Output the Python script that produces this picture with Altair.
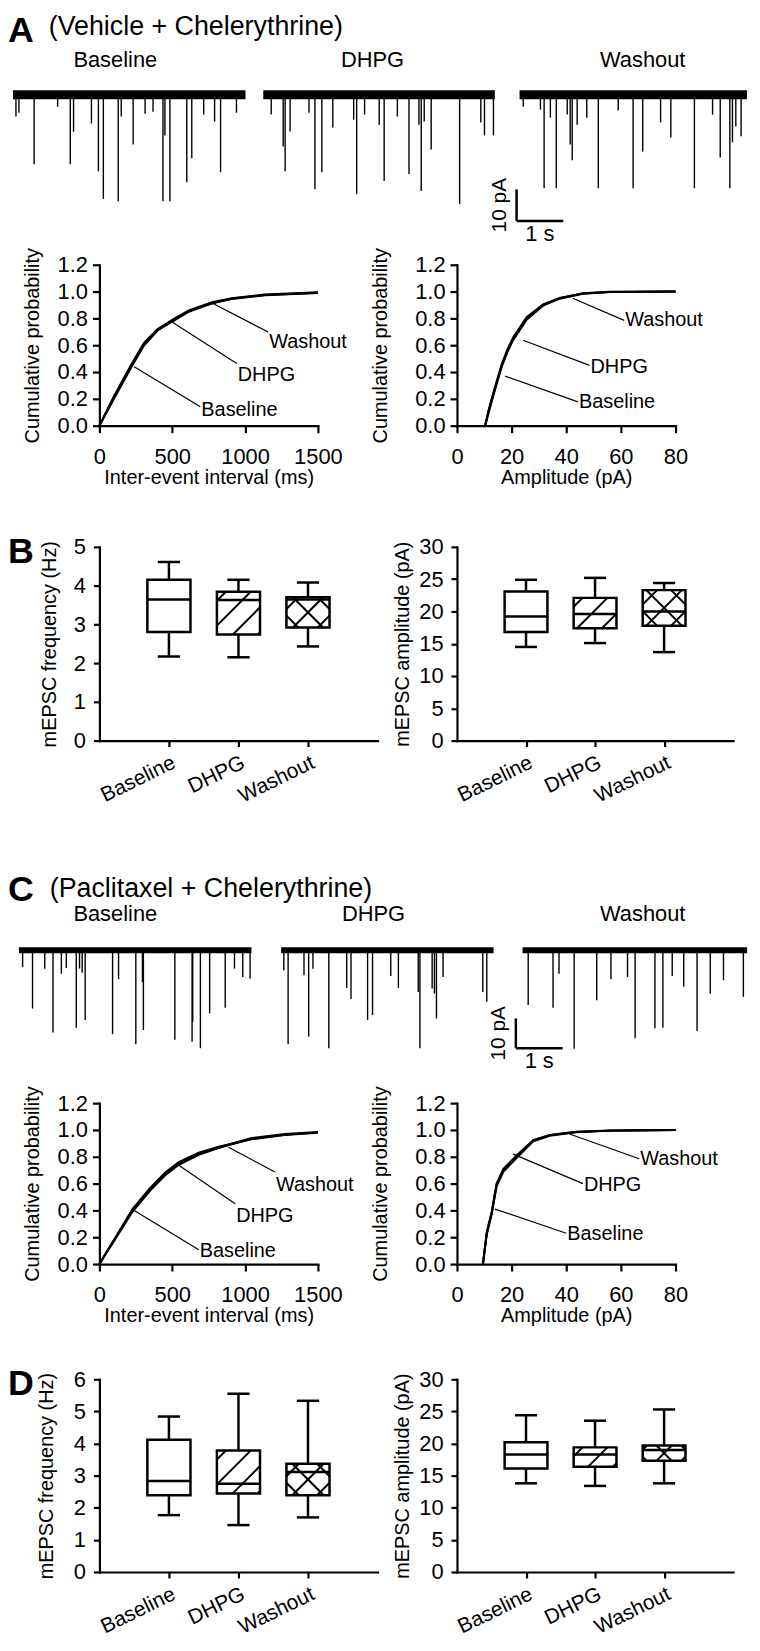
import altair as alt
import pandas as pd

FONT = "Liberation Sans"
CATS = ["Baseline", "DHPG", "Washout"]

# ---------------- example sweeps: event time (s) and amplitude (pA) ----------------
A_BASE_T = [0.064, 0.128, 0.453, 0.957, 1.228, 1.298, 1.681, 1.830, 1.936, 2.255, 2.319, 2.574,
            2.830, 3.000, 3.213, 3.255, 3.362, 3.723, 3.830, 4.085, 4.319, 4.447, 4.787]
A_BASE_A = [6.9, 5.7, 22.1, 3.8, 22.1, 11.7, 9.1, 24.3, 33.1, 33.8, 6.9, 15.8,
            6.0, 5.4, 33.8, 12.9, 33.8, 27.8, 20.2, 6.3, 8.5, 24.6, 5.7]
A_DHPG_T = [0.170, 0.426, 0.468, 0.574, 0.979, 1.106, 1.255, 1.489, 1.936, 2.000, 2.170, 2.483,
            2.589, 2.872, 3.121, 3.334, 3.383, 3.447, 3.596, 4.206, 4.660, 4.738, 4.930]
A_DHPG_A = [6.3, 16.4, 24.3, 11.7, 5.7, 30.0, 24.6, 10.4, 7.9, 31.5, 6.3, 9.5,
            27.4, 6.9, 25.2, 9.5, 30.6, 8.5, 17.4, 34.7, 8.8, 12.9, 12.9]
A_WASH_T = [0.079, 0.447, 0.526, 0.660, 0.787, 1.021, 1.085, 1.128, 1.234, 1.440, 1.687, 2.113,
            2.432, 2.638, 3.021, 3.240, 3.745, 4.134, 4.298, 4.504, 4.560, 4.632, 4.745]
A_WASH_A = [3.8, 4.7, 29.7, 7.3, 29.7, 6.3, 15.8, 20.8, 9.5, 7.3, 29.7, 5.0,
            29.7, 18.0, 8.8, 13.6, 29.7, 6.3, 19.9, 29.7, 15.1, 10.1, 13.2]
A_DUR = [4.98, 4.96, 4.87]

C_BASE_T = [0.079, 0.291, 0.553, 0.730, 0.909, 1.015, 1.228, 1.298, 1.355, 1.419, 2.006, 2.134,
            2.504, 2.645, 2.666, 3.340, 3.709, 3.723, 3.887, 4.085, 4.419, 4.617, 4.794, 4.951]
C_BASE_A = [5.7, 19.6, 6.2, 27.6, 7.9, 6.0, 26.0, 6.2, 7.6, 23.4, 28.2, 9.7,
            31.6, 10.7, 26.8, 30.1, 30.7, 24.0, 32.9, 21.2, 19.3, 6.2, 9.0, 9.6]
C_DHPG_T = [0.057, 0.149, 0.489, 0.589, 0.681, 1.021, 1.404, 1.496, 1.851, 1.957, 2.347, 2.511,
            2.936, 2.972, 3.234, 3.283, 3.326, 3.468, 4.319, 4.404]
C_DHPG_A = [6.8, 31.6, 8.4, 29.0, 6.2, 32.9, 12.7, 16.4, 23.4, 21.8, 8.7, 12.7,
            14.0, 32.9, 12.9, 14.6, 22.9, 9.0, 14.0, 17.3]
C_WASH_T = [0.121, 0.653, 0.781, 1.106, 1.589, 1.894, 2.249, 2.411, 2.836, 3.006, 3.206, 3.453,
            3.738, 4.021, 4.304, 4.730]
C_WASH_A = [18.4, 19.3, 7.9, 33.1, 16.8, 9.8, 9.0, 29.6, 26.2, 26.0, 8.7, 12.3,
            27.1, 14.6, 10.1, 15.7]
C_DUR = [4.98, 4.55, 4.81]

BAR_S = 1.0     # scale bar: 1 s
BAR_PA = 10.0   # scale bar: 10 pA

# ---------------- cumulative distributions ----------------
A_IEI_X = [0, 100, 216, 307, 400, 500, 614, 773, 909, 1136, 1500]
A_IEI_BASE = [0, 0.22, 0.45, 0.62, 0.72, 0.79, 0.86, 0.92, 0.95, 0.978, 0.995]
A_IEI_DHPG = [0, 0.20, 0.43, 0.60, 0.71, 0.78, 0.855, 0.91, 0.948, 0.975, 0.992]
A_IEI_WASH = [0, 0.21, 0.44, 0.61, 0.715, 0.775, 0.85, 0.915, 0.945, 0.972, 0.99]

A_AMP_X = [10.3, 11.5, 12.7, 14.5, 16.4, 18.5, 20.6, 25.5, 31.5, 37.6, 46.1, 55.8, 80]
A_AMP_BASE = [0, 0.10, 0.19, 0.32, 0.45, 0.56, 0.65, 0.80, 0.90, 0.95, 0.985, 0.997, 1.0]
A_AMP_DHPG = [0, 0.09, 0.18, 0.31, 0.44, 0.55, 0.64, 0.79, 0.895, 0.947, 0.983, 0.996, 1.0]
A_AMP_WASH = [0, 0.11, 0.20, 0.33, 0.46, 0.57, 0.66, 0.81, 0.905, 0.953, 0.987, 0.998, 1.0]

C_IEI_X = [0, 100, 227, 350, 450, 545, 682, 818, 1045, 1273, 1500]
C_IEI_BASE = [0, 0.18, 0.40, 0.56, 0.67, 0.75, 0.82, 0.87, 0.94, 0.97, 0.985]
C_IEI_DHPG = [0, 0.17, 0.39, 0.55, 0.66, 0.74, 0.815, 0.865, 0.935, 0.965, 0.982]
C_IEI_WASH = [0, 0.18, 0.41, 0.57, 0.68, 0.76, 0.83, 0.875, 0.93, 0.962, 0.98]

C_AMP_X = [9.5, 10.9, 12.7, 14.5, 17.0, 21.8, 27.9, 33.9, 43.6, 55.8, 80]
C_AMP_BASE = [0, 0.23, 0.38, 0.59, 0.70, 0.80, 0.92, 0.96, 0.985, 0.995, 1.0]
C_AMP_DHPG = [0, 0.22, 0.37, 0.58, 0.69, 0.79, 0.915, 0.957, 0.983, 0.994, 1.0]
C_AMP_WASH = [0, 0.24, 0.39, 0.60, 0.71, 0.81, 0.925, 0.963, 0.987, 0.996, 1.0]

# leader labels: name, point on curve (x, y), line end (x, y), text centre y
A_IEI_LAB = [("Washout", 773, 0.915, 1159, 0.698, 0.626),
             ("DHPG", 488, 0.78, 943, 0.463, 0.38),
             ("Baseline", 239, 0.44, 693, 0.141, 0.113)]
A_AMP_LAB = [("Washout", 42.4, 0.95, 61.2, 0.785, 0.785),
             ("DHPG", 24.2, 0.637, 48.5, 0.45, 0.44),
             ("Baseline", 17.6, 0.37, 44.3, 0.178, 0.175)]
C_IEI_LAB = [("Washout", 886, 0.871, 1205, 0.687, 0.587),
             ("DHPG", 545, 0.736, 932, 0.45, 0.358),
             ("Baseline", 239, 0.40, 682, 0.106, 0.095)]
C_AMP_LAB = [("Washout", 41.2, 0.97, 66.7, 0.785, 0.784),
             ("DHPG", 20.6, 0.82, 46.1, 0.60, 0.587),
             ("Baseline", 13.9, 0.41, 40, 0.23, 0.224)]

# ---------------- box plot statistics (lo whisker, q1, median, q3, hi whisker) ----------------
B_FREQ_LO = [2.17, 2.15, 2.43]
B_FREQ_Q1 = [2.80, 2.74, 2.92]
B_FREQ_MED = [3.64, 3.63, 3.64]
B_FREQ_Q3 = [4.15, 3.84, 3.70]
B_FREQ_HI = [4.61, 4.15, 4.08]

B_AMP_LO = [14.5, 15.1, 13.7]
B_AMP_Q1 = [16.8, 17.4, 17.8]
B_AMP_MED = [19.2, 19.6, 20.0]
B_AMP_Q3 = [23.1, 22.1, 23.3]
B_AMP_HI = [24.9, 25.2, 24.4]

D_FREQ_LO = [1.77, 1.46, 1.70]
D_FREQ_Q1 = [2.39, 2.44, 2.39]
D_FREQ_MED = [2.83, 2.75, 3.11]
D_FREQ_Q3 = [4.12, 3.78, 3.37]
D_FREQ_HI = [4.84, 5.55, 5.33]

D_AMP_LO = [13.8, 13.4, 13.8]
D_AMP_Q1 = [16.1, 16.4, 17.3]
D_AMP_MED = [18.3, 18.3, 19.0]
D_AMP_Q3 = [20.2, 19.4, 19.7]
D_AMP_HI = [24.4, 23.55, 25.3]

HATCH = ["", "/", "x"]

# ---------------- styling constants ----------------
PX_PER_S = 47.0
HALF_BOX = 0.31
HALF_CAP = 0.16


def spacer(w, h):
    return alt.Chart(pd.DataFrame({"s": [0]})).mark_point(size=0, opacity=0).properties(width=w, height=h)


def letter_spacer(letter, w, h, y):
    return alt.Chart(pd.DataFrame({"s": [0]})).mark_text(
        text=letter, font=FONT, fontSize=36, fontWeight="bold", align="left",
        baseline="alphabetic", color="black"
    ).encode(x=alt.value(0), y=alt.value(y)).properties(width=w, height=h)


def header(letter, letter_y, subtitle, sub_x, sub_y, label_xs, label_y, h):
    d = pd.DataFrame({"s": [0]})
    layers = [
        alt.Chart(d).mark_text(text=letter, font=FONT, fontSize=36, fontWeight="bold",
                               align="left", baseline="alphabetic", color="black")
        .encode(x=alt.value(0), y=alt.value(letter_y)),
        alt.Chart(d).mark_text(text=subtitle, font=FONT, fontSize=27, align="left",
                               baseline="alphabetic", color="black")
        .encode(x=alt.value(sub_x), y=alt.value(sub_y)),
    ]
    for name, lx in zip(CATS, label_xs):
        layers.append(
            alt.Chart(d).mark_text(text=name, font=FONT, fontSize=22, align="center",
                                   baseline="alphabetic", color="black")
            .encode(x=alt.value(lx), y=alt.value(label_y)))
    return alt.layer(*layers).properties(width=736, height=h)


def trace_panel(times, amps, dur, lead_px, width, height, ytop, pxpa, band_w, bar=None):
    x0 = -lead_px / PX_PER_S
    xsc = alt.Scale(domain=[x0, x0 + width / PX_PER_S], nice=False, zero=False)
    ysc = alt.Scale(domain=[ytop - height / pxpa, ytop], nice=False, zero=False)
    ev = pd.DataFrame({"t": times, "y0": [0.0] * len(times), "y1": [-a for a in amps]})
    band = pd.DataFrame({"t": [0.0], "t2": [dur], "y": [0.0]})
    spikes = alt.Chart(ev).mark_rule(color="black", strokeWidth=1.4).encode(
        x=alt.X("t:Q", scale=xsc, axis=None),
        y=alt.Y("y0:Q", scale=ysc, axis=None), y2="y1:Q")
    bandc = alt.Chart(band).mark_rule(color="black", strokeWidth=band_w).encode(
        x=alt.X("t:Q", scale=xsc, axis=None), x2="t2:Q",
        y=alt.Y("y:Q", scale=ysc, axis=None))
    layers = [spikes, bandc]
    if bar is not None:
        bx, by = bar
        sb = pd.DataFrame({"x": [bx], "x2": [bx + BAR_S], "y": [by], "y2": [by + BAR_PA],
                           "xm": [bx + BAR_S / 2], "ym": [by + BAR_PA / 2], "xl": [bx - 0.15]})
        layers += [
            alt.Chart(sb).mark_rule(color="black", strokeWidth=2.5).encode(
                x=alt.X("x:Q", scale=xsc, axis=None),
                y=alt.Y("y:Q", scale=ysc, axis=None), y2="y2:Q"),
            alt.Chart(sb).mark_rule(color="black", strokeWidth=2.5).encode(
                x=alt.X("x:Q", scale=xsc, axis=None), x2="x2:Q",
                y=alt.Y("y:Q", scale=ysc, axis=None)),
            alt.Chart(sb).mark_text(text="10 pA", font=FONT, fontSize=21, angle=270,
                                    align="center", baseline="bottom", color="black").encode(
                x=alt.X("xl:Q", scale=xsc, axis=None),
                y=alt.Y("ym:Q", scale=ysc, axis=None)),
            alt.Chart(sb).mark_text(text="1 s", font=FONT, fontSize=22, align="center",
                                    baseline="top", dy=3, color="black").encode(
                x=alt.X("xm:Q", scale=xsc, axis=None),
                y=alt.Y("y:Q", scale=ysc, axis=None)),
        ]
    return alt.layer(*layers).properties(width=width, height=height)


def cum_panel(xs, series, xdom, xticks, xtitle, labels, width, height, ytitle_pad):
    rows = []
    for name, ys in zip(CATS, series):
        for xv, yv in zip(xs, ys):
            rows.append({"x": xv, "y": yv, "s": name})
    xsc = alt.Scale(domain=xdom, nice=False, zero=False)
    ysc = alt.Scale(domain=[0, 1.2], nice=False)
    xax = alt.Axis(values=xticks, title=xtitle, tickSize=7, labelPadding=14, titlePadding=0,
                   format="d", labelFlush=False, labelOverlap=False)
    yax = alt.Axis(values=[0, 0.2, 0.4, 0.6, 0.8, 1.0, 1.2], format=".1f",
                   title="Cumulative probability", tickSize=7, labelPadding=5,
                   titlePadding=ytitle_pad, labelOverlap=False, labelFlush=False)
    lines = alt.Chart(pd.DataFrame(rows)).mark_line(color="black", strokeWidth=2).encode(
        x=alt.X("x:Q", scale=xsc, axis=xax), y=alt.Y("y:Q", scale=ysc, axis=yax),
        detail="s:N")
    ann = pd.DataFrame(labels, columns=["name", "cx", "cy", "lx", "ly", "ty"])
    leaders = alt.Chart(ann).mark_rule(color="black", strokeWidth=1.2).encode(
        x=alt.X("cx:Q", scale=xsc, axis=xax), y=alt.Y("cy:Q", scale=ysc, axis=yax),
        x2="lx:Q", y2="ly:Q")
    texts = alt.Chart(ann).mark_text(align="left", baseline="middle", font=FONT, fontSize=20,
                                     dx=1, color="black").encode(
        x=alt.X("lx:Q", scale=xsc, axis=xax), y=alt.Y("ty:Q", scale=ysc, axis=yax),
        text="name:N")
    return alt.layer(lines, leaders, texts).properties(width=width, height=height)


def hatch_segments(pos, q1, q3, pxx, pxy, kind, step=25.0):
    x1 = pos - HALF_BOX
    w = 2 * HALF_BOX * pxx
    h = (q3 - q1) * pxy
    segs = []

    def add(u0, v0, u1, v1):
        segs.append({"hx": x1 + u0 / pxx, "hy": q3 - v0 / pxy,
                     "hx2": x1 + u1 / pxx, "hy2": q3 - v1 / pxy})

    if kind in ("/", "x"):
        if kind == "/":
            cs = [9.0 + step * k for k in range(12)]
        else:
            cs = [(w + h) / 2 + step * k for k in range(-6, 7)]
        for c in cs:
            ulo, uhi = max(0.0, c - h), min(w, c)
            if uhi - ulo > 1.5:
                add(ulo, c - ulo, uhi, c - uhi)
    if kind == "x":
        for k in range(-6, 7):
            d = (w - h) / 2 + step * k
            ulo, uhi = max(0.0, d), min(w, h + d)
            if uhi - ulo > 1.5:
                add(ulo, ulo - d, uhi, uhi - d)
    return segs


def box_panel(lo, q1, med, q3, hi, ymax, ystep, width, height, ytitle, tpad):
    pos = [1, 2, 3]
    df = pd.DataFrame({"cat": CATS, "pos": pos, "lo": lo, "q1": q1, "med": med, "q3": q3, "hi": hi})
    df["bx1"] = df["pos"] - HALF_BOX
    df["bx2"] = df["pos"] + HALF_BOX
    df["cx1"] = df["pos"] - HALF_CAP
    df["cx2"] = df["pos"] + HALF_CAP
    pxx = width / 4.0
    pxy = height / float(ymax)
    segs = []
    for p, a, b, kind in zip(pos, q1, q3, HATCH):
        segs += hatch_segments(p, a, b, pxx, pxy, kind)
    hd = pd.DataFrame(segs)

    label_expr = "[" + ",".join("'%s'" % c for c in CATS) + "][datum.value - 1]"
    xsc = alt.Scale(domain=[0, 4], nice=False, zero=False)
    ysc = alt.Scale(domain=[0, ymax], nice=False)
    xax = alt.Axis(values=pos, labelExpr=label_expr, labelAngle=-26, labelAlign="right",
                   labelBaseline="top", tickSize=6, labelPadding=5, title=None,
                   labelOverlap=False, labelFlush=False, labelFontSize=21)
    yax = alt.Axis(values=list(range(0, ymax + 1, ystep)), format="d", title=ytitle,
                   tickSize=6, labelPadding=8, titlePadding=tpad, labelOverlap=False,
                   labelFlush=False)

    def X(f):
        return alt.X(f, scale=xsc, axis=xax)

    def Y(f):
        return alt.Y(f, scale=ysc, axis=yax)

    base = alt.Chart(df)
    lw = base.mark_rule(color="black", strokeWidth=2.5).encode(x=X("pos:Q"), y=Y("lo:Q"), y2="q1:Q")
    uw = base.mark_rule(color="black", strokeWidth=2.5).encode(x=X("pos:Q"), y=Y("q3:Q"), y2="hi:Q")
    lc = base.mark_rule(color="black", strokeWidth=2.5).encode(x=X("cx1:Q"), x2="cx2:Q", y=Y("lo:Q"))
    uc = base.mark_rule(color="black", strokeWidth=2.5).encode(x=X("cx1:Q"), x2="cx2:Q", y=Y("hi:Q"))
    fill = base.mark_rect(fill="white", strokeWidth=0).encode(
        x=X("bx1:Q"), x2="bx2:Q", y=Y("q1:Q"), y2="q3:Q")
    hatch = alt.Chart(hd).mark_rule(color="black", strokeWidth=2).encode(
        x=X("hx:Q"), x2="hx2:Q", y=Y("hy:Q"), y2="hy2:Q")
    medl = base.mark_rule(color="black", strokeWidth=2.5).encode(x=X("bx1:Q"), x2="bx2:Q", y=Y("med:Q"))
    outline = base.mark_rect(fillOpacity=0, stroke="black", strokeWidth=2.5).encode(
        x=X("bx1:Q"), x2="bx2:Q", y=Y("q1:Q"), y2="q3:Q")
    return alt.layer(lw, uw, lc, uc, fill, hatch, medl, outline).properties(width=width, height=height)


# ---------------- assemble ----------------
headA = header("A", 29, "(Vehicle + Chelerythrine)", 41, 22, [108, 367, 639], 54, 66)
tracesA = alt.hconcat(
    trace_panel(A_BASE_T, A_BASE_A, A_DUR[0], 5, 252, 169, 5, 3.17, 9),
    trace_panel(A_DHPG_T, A_DHPG_A, A_DUR[1], 5, 258, 169, 5, 3.17, 9),
    trace_panel(A_WASH_T, A_WASH_A, A_DUR[2], 5, 234, 169, 5, 3.17, 9, bar=(-0.064, -40.06)),
    spacing=0, bounds="flush")
cumA = alt.hconcat(
    spacer(92, 162),
    cum_panel(A_IEI_X, [A_IEI_BASE, A_IEI_DHPG, A_IEI_WASH], [0, 1500], [0, 500, 1000, 1500],
              "Inter-event interval (ms)", A_IEI_LAB, 220, 162, 15),
    spacer(140, 162),
    cum_panel(A_AMP_X, [A_AMP_BASE, A_AMP_DHPG, A_AMP_WASH], [0, 80], [0, 20, 40, 60, 80],
              "Amplitude (pA)", A_AMP_LAB, 220, 162, 24),
    spacing=0, bounds="flush")
boxB = alt.hconcat(
    letter_spacer("B", 92, 195, 16),
    box_panel(B_FREQ_LO, B_FREQ_Q1, B_FREQ_MED, B_FREQ_Q3, B_FREQ_HI, 5, 1, 280, 195,
              "mEPSC frequency (Hz)", 14),
    spacer(80, 195),
    box_panel(B_AMP_LO, B_AMP_Q1, B_AMP_MED, B_AMP_Q3, B_AMP_HI, 30, 5, 278, 195,
              "mEPSC amplitude (pA)", 6),
    spacing=0, bounds="flush")

headC = header("C", 29, "(Paclitaxel + Chelerythrine)", 42, 24, [108, 368, 639], 49, 63)
tracesC = alt.hconcat(
    trace_panel(C_BASE_T, C_BASE_A, C_DUR[0], 11, 262, 151, 5, 3.0, 6),
    trace_panel(C_DHPG_T, C_DHPG_A, C_DUR[1], 13, 250, 151, 5, 3.0, 6),
    trace_panel(C_WASH_T, C_WASH_A, C_DUR[2], 6, 232, 151, 5, 3.0, 6, bar=(-0.143, -32.9)),
    spacing=0, bounds="flush")
cumC = alt.hconcat(
    spacer(92, 162),
    cum_panel(C_IEI_X, [C_IEI_BASE, C_IEI_DHPG, C_IEI_WASH], [0, 1500], [0, 500, 1000, 1500],
              "Inter-event interval (ms)", C_IEI_LAB, 220, 162, 15),
    spacer(140, 162),
    cum_panel(C_AMP_X, [C_AMP_BASE, C_AMP_DHPG, C_AMP_WASH], [0, 80], [0, 20, 40, 60, 80],
              "Amplitude (pA)", C_AMP_LAB, 220, 162, 24),
    spacing=0, bounds="flush")
boxD = alt.hconcat(
    letter_spacer("D", 92, 194, 16),
    box_panel(D_FREQ_LO, D_FREQ_Q1, D_FREQ_MED, D_FREQ_Q3, D_FREQ_HI, 6, 1, 280, 194,
              "mEPSC frequency (Hz)", 17),
    spacer(80, 194),
    box_panel(D_AMP_LO, D_AMP_Q1, D_AMP_MED, D_AMP_Q3, D_AMP_HI, 30, 5, 278, 194,
              "mEPSC amplitude (pA)", 6),
    spacing=0, bounds="flush")

chart = alt.vconcat(
    headA, tracesA, cumA, spacer(1, 47), boxB, spacer(1, 67),
    headC, tracesC, cumC, spacer(1, 41), boxD,
    spacing=0
).properties(padding=0, background="white").configure_view(strokeWidth=0).configure_axis(
    labelFont=FONT, titleFont=FONT, labelFontSize=22, titleFontSize=20,
    titleFontWeight="normal", labelColor="black", titleColor="black",
    domainColor="black", tickColor="black", domainWidth=2.2, tickWidth=2.2,
    domainCap="square", grid=False
)

chart.save("out.html", embed_options={"renderer": "svg", "actions": False})
